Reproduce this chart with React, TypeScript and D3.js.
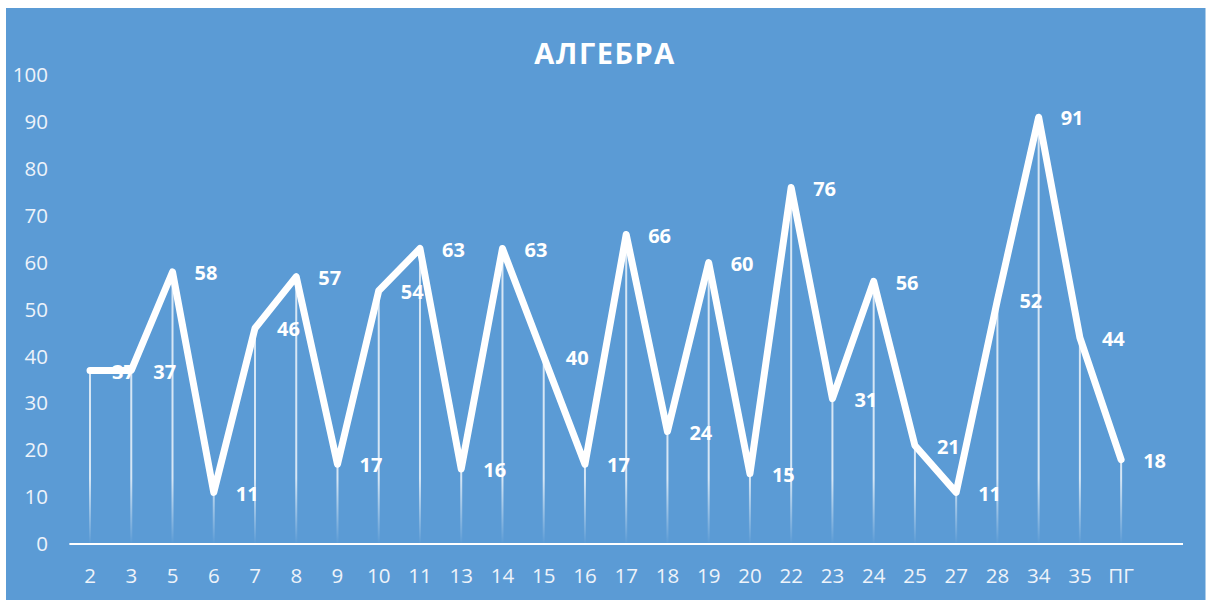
import React from "react";
import * as d3 from "d3";

const categories = ["2","3","5","6","7","8","9","10","11","13","14","15","16","17","18","19","20","22","23","24","25","27","28","34","35","ПГ"];
const values = [37,37,58,11,46,57,17,54,63,16,63,40,17,66,24,60,15,76,31,56,21,11,52,91,44,18];
const yTicks = [0,10,20,30,40,50,60,70,80,90,100];
const title = "АЛГЕБРА";

const W = 1209, H = 600;
const BG = "#5B9BD5";
const FONT = "'Open Sans', 'Noto Sans', sans-serif";

export default function App() {
  const axisLeft = 69.4, axisRight = 1183;
  const step = (axisRight - axisLeft) / (categories.length + 1);
  const x = d3.scaleBand<string>().domain(categories).range([axisLeft, axisLeft + step * categories.length]).paddingInner(0).paddingOuter(0);
  const cx = (c: string) => (x(c) as number) + x.bandwidth() / 2;
  const y = d3.scaleLinear().domain([0, 100]).range([544, 75]);
  const data = categories.map((c, i) => ({ c, v: values[i] }));
  const line = d3.line<{ c: string; v: number }>().x(d => cx(d.c)).y(d => y(d.v));

  return (
    <svg width={W} height={H} style={{ position: "absolute", left: 0, top: 0, display: "block" }}>
      <defs>
        <linearGradient id="fade" gradientUnits="userSpaceOnUse" x1="0" y1={y(14)} x2="0" y2={y(0)}>
          <stop offset="0" stopColor="#ffffff" stopOpacity={0.75} />
          <stop offset="1" stopColor="#ffffff" stopOpacity={0} />
        </linearGradient>
      </defs>
      <rect x={0} y={0} width={W} height={H} fill="#ffffff" />
      <rect x={6} y={8} width={1199.5} height={592} fill={BG} />
      <text x={605} y={64} textAnchor="middle" fill="#ffffff" fontFamily={FONT} fontWeight={700} fontSize={29} letterSpacing={1.5}>{title}</text>
      {yTicks.map(t => (
        <text key={t} x={48} y={y(t)} dy="0.35em" textAnchor="end" fill="#EEF3FA" fontFamily={FONT} fontSize={20.5}>{t}</text>
      ))}
      {data.map(d => (
        <line key={"d" + d.c} x1={cx(d.c)} x2={cx(d.c)} y1={y(d.v)} y2={y(0)} stroke="url(#fade)" strokeWidth={2} />
      ))}
      <line x1={axisLeft} x2={axisRight} y1={y(0)} y2={y(0)} stroke="#ffffff" strokeWidth={2} />
      {categories.map(c => (
        <text key={"x" + c} x={cx(c)} y={583} textAnchor="middle" fill="#EEF3FA" fontFamily={FONT} fontSize={20.5}>{c}</text>
      ))}
      {data.map(d => (
        <text key={"l" + d.c} x={cx(d.c) + 22} y={y(d.v) + 1} dy="0.36em" textAnchor="start" fill="#ffffff" fontFamily={FONT} fontWeight={700} fontSize={20}>{d.v}</text>
      ))}
      <path d={line(data) as string} fill="none" stroke="#ffffff" strokeWidth={7} strokeLinejoin="round" strokeLinecap="round" />
    </svg>
  );
}
